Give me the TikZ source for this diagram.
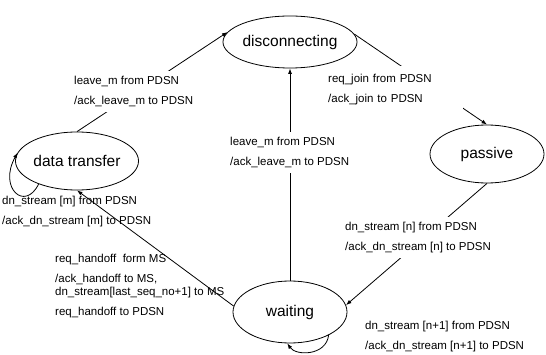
\documentclass[tikz,border=0pt]{standalone}
\usepackage{fontspec}
\setmainfont{Liberation Sans}
\usetikzlibrary{arrows.meta,shapes.geometric}
\begin{document}
\begin{tikzpicture}[x=1pt,y=-1pt,
  st/.style={draw, ellipse, line width=0.8pt, inner sep=0pt, font=\fontsize{15.5}{18}\selectfont},
  lbl/.style={font=\fontsize{11.5}{20}\selectfont, align=left, anchor=west, inner sep=0pt},
  wlbl/.style={lbl, fill=white, inner xsep=3pt, inner ysep=5pt},
  con/.style={line width=0.8pt, -{Latex[length=5.5pt,width=4pt]}}]
\useasboundingbox (0,0) rectangle (546,355);

% states
\node[st, minimum width=116pt, minimum height=52pt] (disc) at (290,42) {disconnecting};
\node[st, minimum width=114pt, minimum height=58pt] (dt) at (77,161) {data transfer};
\node[st, minimum width=114pt, minimum height=58pt] (pas) at (487,154) {passive};
\node[st, minimum width=114pt, minimum height=62pt] (wait) at (290,312) {waiting};

% connectors
\draw[con] (dt.north) -- (disc.171);
\draw[con] (disc.7) -- (pas.north);
\draw[con] (wait.north) -- (disc.south);
\draw[con] (pas.south) -- (wait.7);
\draw[con] (wait.174) -- (dt.south);
\draw[con] (dt.211) .. controls (25,212) and (-2,188) .. (dt.172);
\draw[con] (wait.329) .. controls (326,356) and (296,356) .. (wait.265);

% labels
\node[wlbl] (l1) at (71,91.5) {leave\_m from PDSN\\/ack\_leave\_m to PDSN};
\node[wlbl, text width=132pt, inner ysep=9pt] (l2) at (325,90) {req\_join from PDSN\\/ack\_join to PDSN};
\node[wlbl] (l3) at (227,152.5) {leave\_m from PDSN\\/ack\_leave\_m to PDSN};
\node[wlbl] (l6) at (342,237.5) {dn\_stream [n] from PDSN\\/ack\_dn\_stream [n] to PDSN};
\node[lbl] (l4) at (2,212) {dn\_stream [m] from PDSN\\/ack\_dn\_stream [m] to PDSN};
\node[lbl] (l5a) at (55,260) {req\_handoff\ \ form MS};
\node[lbl, font=\fontsize{11.5}{13}\selectfont] (l5b) at (55,286.5) {/ack\_handoff to MS,\\dn\_stream[last\_seq\_no+1] to MS};
\node[lbl] (l5c) at (55,313) {req\_handoff to PDSN};
\node[lbl] (l7) at (365,337) {dn\_stream [n+1] from PDSN\\/ack\_dn\_stream [n+1] to PDSN};
\end{tikzpicture}
\end{document}
